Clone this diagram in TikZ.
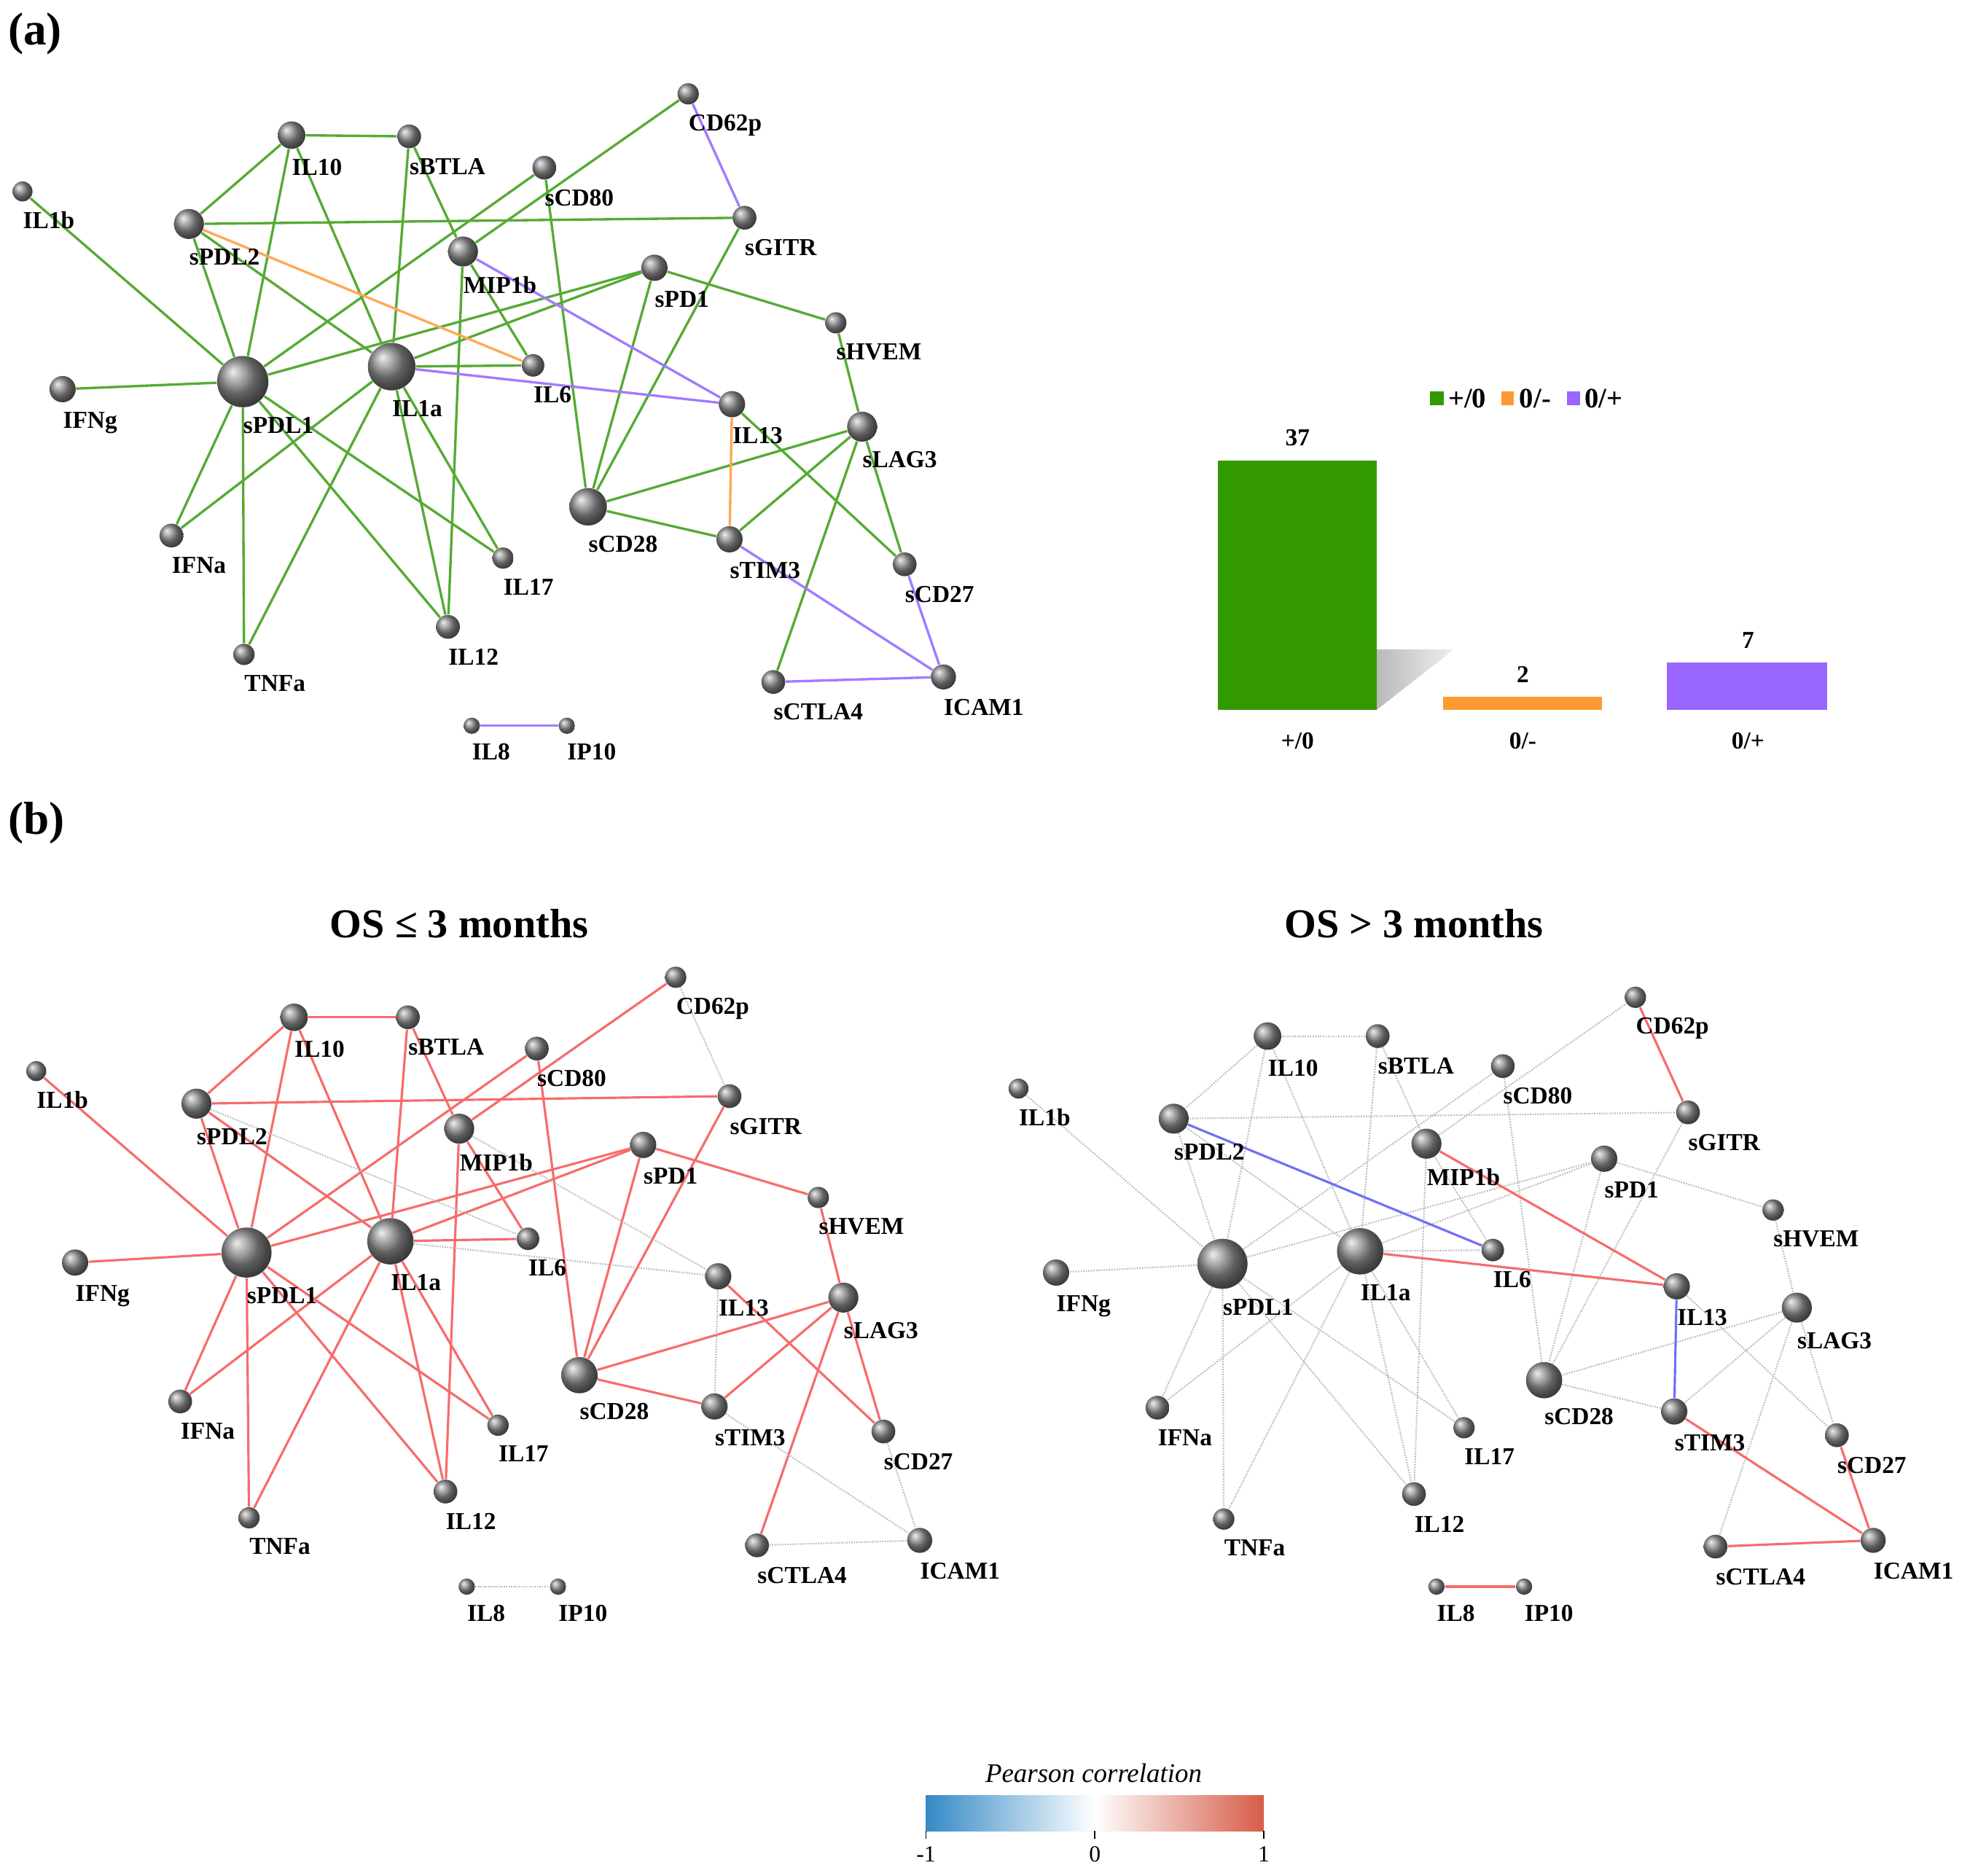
\documentclass[tikz,border=0pt]{standalone}
\usepackage{fontspec}
\setmainfont{Liberation Serif}
\usetikzlibrary{positioning}

\definecolor{plusgreen}{RGB}{86,170,52}
\definecolor{minusorange}{RGB}{255,168,84}
\definecolor{pluspurple}{RGB}{162,122,255}
\definecolor{bargreen}{RGB}{51,153,0}
\definecolor{barorange}{RGB}{255,153,51}
\definecolor{barpurple}{RGB}{153,102,255}
\definecolor{corrred}{RGB}{246,108,108}
\definecolor{corrblue}{RGB}{112,112,246}
\definecolor{cbblue}{RGB}{52,138,198}
\definecolor{cbred}{RGB}{214,92,72}

\newcommand\tagfont{\bfseries\fontsize{9.5}{11}\selectfont}
\newcommand\panelfont{\bfseries\fontsize{18}{20}\selectfont}
\newcommand\titlefont{\bfseries\fontsize{16}{18}\selectfont}
\newcommand\barfont{\bfseries\fontsize{9.5}{11}\selectfont}
\newcommand\legendfont{\bfseries\fontsize{11}{13}\selectfont}

\pgfdeclarelayer{back}
\pgfsetlayers{back,main}

\tikzset{
  ball/.style={circle, inner sep=0pt, shading=ball, ball color=black!45},
  tag/.style={font=\tagfont, inner sep=0pt, anchor=north west, label distance=3.5pt},
  panel/.style={font=\panelfont, inner sep=0pt, anchor=west},
  heading/.style={font=\titlefont, inner sep=0pt},
  count/.style={font=\barfont, inner sep=0pt},
  legend/.style={font=\legendfont, inner sep=0pt, anchor=west},
  cbtick/.style={font=\fontsize{9}{10}\selectfont, inner sep=0pt},
  plusline/.style={plusgreen, line width=0.95pt},
  minusline/.style={minusorange, line width=0.95pt},
  zeroplusline/.style={pluspurple, line width=0.95pt},
  redline/.style={corrred, line width=0.9pt},
  blueline/.style={corrblue, line width=0.9pt},
  greyline/.style={gray!55, line width=0.6pt, dash pattern=on 0.5pt off 0.5pt},
}

% nodes: name/x/y/radius, in pixels of the figure
\def\netA{IL1b/18/153/8, IL10/233/108/11, sBTLA/327/109/9.5, sCD80/435/134/9.5,
  CD62p/550/75/8.5, sPDL2/151/179/12, sGITR/595/174/9.5, MIP1b/370/201/12,
  sPD1/523/214/10.5, sHVEM/668/258/8.5, IFNg/50/311/10.5, sPDL1/194/305/20.5,
  IL1a/313/293/19, IL6/426/292/9, IL13/585/323/10.5, sLAG3/689/341/12,
  sCD28/470/405/15, sTIM3/583/431/10.5, IFNa/137/428/9.5, IL17/402/446/8.5,
  sCD27/723/451/9.5, IL12/358/501/9.5, TNFa/195/523/8.5, sCTLA4/618/545/9.5,
  ICAM1/754/541/10, IL8/377/580/6.5, IP10/453/580/6.5}
\def\netL{IL1b/29/856/8, IL10/235/813/11, sBTLA/326/813/9.5, sCD80/429/838/9.5,
  CD62p/540/781/8.5, sPDL2/157/882/12, sGITR/583/876/9.5, MIP1b/367/902/12,
  sPD1/514/915/10.5, sHVEM/654/957/8.5, IFNg/60/1009/10.5, sPDL1/197/1001/20,
  IL1a/312/992/18.5, IL6/422/990/9, IL13/574/1020/10.5, sLAG3/674/1037/12,
  sCD28/463/1099/14.5, sTIM3/571/1124/10.5, IFNa/144/1120/9.5, IL17/398/1139/8.5,
  sCD27/706/1144/9.5, IL12/356/1192/9.5, TNFa/199/1213/8.5, sCTLA4/605/1235/9.5,
  ICAM1/735/1231/10, IL8/373/1268/6.5, IP10/446/1268/6.5}
\def\netR{IL1b/814/870/8, IL10/1013/828/11, sBTLA/1101/828/9.5, sCD80/1201/852/9.5,
  CD62p/1307/797/8.5, sPDL2/938/894/12, sGITR/1349/889/9.5, MIP1b/1140/914/12,
  sPD1/1282/926/10.5, sHVEM/1417/967/8.5, IFNg/844/1017/10.5, sPDL1/977/1010/20,
  IL1a/1087/1000/18.5, IL6/1193/999/9, IL13/1340/1028/10.5, sLAG3/1436/1045/12,
  sCD28/1234/1103/14.5, sTIM3/1338/1128/10.5, IFNa/925/1125/9.5, IL17/1170/1141/8.5,
  sCD27/1468/1147/9.5, IL12/1130/1194/9.5, TNFa/978/1214/8.5, sCTLA4/1371/1236/9.5,
  ICAM1/1497/1231/10, IL8/1148/1268/6.5, IP10/1218/1268/6.5}

% edges by pattern (+/0, 0/-, 0/+)
\def\plusedges{IL10/sBTLA, IL10/sPDL2, IL10/sPDL1, IL10/IL1a, sBTLA/IL1a, sBTLA/MIP1b,
  IL1b/sPDL1, sPDL2/sGITR, sPDL2/sPDL1, sPDL2/IL1a, sPDL1/sCD80, MIP1b/CD62p,
  MIP1b/IL6, MIP1b/IL12, sPDL1/IFNg, sPDL1/sPD1, IL1a/sPD1, IL1a/IL6, sPDL1/IFNa,
  sPDL1/TNFa, sPDL1/IL12, sPDL1/IL17, IL1a/IFNa, IL1a/TNFa, IL1a/IL12, IL1a/IL17,
  sCD80/sCD28, sPD1/sCD28, sGITR/sCD28, sPD1/sHVEM, sHVEM/sLAG3, IL13/sCD27,
  sLAG3/sCD28, sLAG3/sTIM3, sLAG3/sCTLA4, sLAG3/sCD27, sCD28/sTIM3}
\def\minusedges{sPDL2/IL6, IL13/sTIM3}
\def\zeroplusedges{MIP1b/IL13, IL1a/IL13, CD62p/sGITR, sTIM3/ICAM1, sCD27/ICAM1,
  sCTLA4/ICAM1, IL8/IP10}

\begin{document}
\begin{tikzpicture}[x=0.017168cm, y=-0.017168cm]
\useasboundingbox (0,0) rectangle (1568,1498.7);

\node[panel] (pa) at (6,27) {(a)};
\node[panel] (pb) at (6,658) {(b)};

% (a) network
\foreach \n/\x/\y/\rad in \netA
  \node[ball, minimum size=\rad*0.034336cm, label={[tag]south:\n}] (a-\n) at (\x,\y) {};
\begin{pgfonlayer}{back}
  \foreach \src/\dst in \plusedges \draw[plusline] (a-\src) -- (a-\dst);
  \foreach \src/\dst in \minusedges \draw[minusline] (a-\src) -- (a-\dst);
  \foreach \src/\dst in \zeroplusedges \draw[zeroplusline] (a-\src) -- (a-\dst);
\end{pgfonlayer}

% (a) bar chart
\shade[left color=gray!55, right color=gray!12] (1100,519) -- (1162,519) -- (1100,567.5) -- cycle;
\fill[bargreen] (973,368) rectangle (1100,567.5);
\fill[barorange] (1153,557) rectangle (1280,567.5);
\fill[barpurple] (1332,529.5) rectangle (1460,567.5);
\node[count] (n37) at (1037,350) {37};
\node[count] (n2) at (1217,539) {2};
\node[count] (n7) at (1397,512) {7};
\node[count] (c1) at (1037,592) {+/0};
\node[count] (c2) at (1217,592) {0/-};
\node[count] (c3) at (1397,592) {0/+};
\fill[bargreen] (1143,312.5) rectangle (1154,324);
\node[legend] (lg1) at (1157,318.5) {+/0};
\fill[barorange] (1200,312.5) rectangle (1210,324);
\node[legend] (lg2) at (1214,318.5) {0/-};
\fill[barpurple] (1252,312.5) rectangle (1263,324);
\node[legend] (lg3) at (1266,318.5) {0/+};

% (b) OS <= 3 months
\node[heading] (tl) at (367,738) {OS ≤ 3 months};
\foreach \n/\x/\y/\rad in \netL
  \node[ball, minimum size=\rad*0.034336cm, label={[tag]south:\n}] (l-\n) at (\x,\y) {};
\begin{pgfonlayer}{back}
  \foreach \src/\dst in \plusedges \draw[redline] (l-\src) -- (l-\dst);
  \foreach \src/\dst in \minusedges \draw[greyline] (l-\src) -- (l-\dst);
  \foreach \src/\dst in \zeroplusedges \draw[greyline] (l-\src) -- (l-\dst);
\end{pgfonlayer}

% (b) OS > 3 months
\node[heading] (tr) at (1130,738) {OS > 3 months};
\foreach \n/\x/\y/\rad in \netR
  \node[ball, minimum size=\rad*0.034336cm, label={[tag]south:\n}] (r-\n) at (\x,\y) {};
\begin{pgfonlayer}{back}
  \foreach \src/\dst in \plusedges \draw[greyline] (r-\src) -- (r-\dst);
  \foreach \src/\dst in \minusedges \draw[blueline] (r-\src) -- (r-\dst);
  \foreach \src/\dst in \zeroplusedges \draw[redline] (r-\src) -- (r-\dst);
\end{pgfonlayer}

% colour scale
\node[font=\itshape\fontsize{10.5}{12}\selectfont, inner sep=0pt] (cbt) at (874,1417) {Pearson correlation};
\shade[left color=cbblue, right color=white] (740,1435) rectangle (875,1463.4);
\shade[left color=white, right color=cbred] (875,1435) rectangle (1010,1463.4);
\foreach \val/\xt in {-1/740, 0/875, 1/1010} {
  \draw[line width=0.5pt] (\xt,1463.4) -- (\xt,1469.5);
  \node[cbtick] (tick\xt) at (\xt,1482) {\val};
}
\end{tikzpicture}
\end{document}
